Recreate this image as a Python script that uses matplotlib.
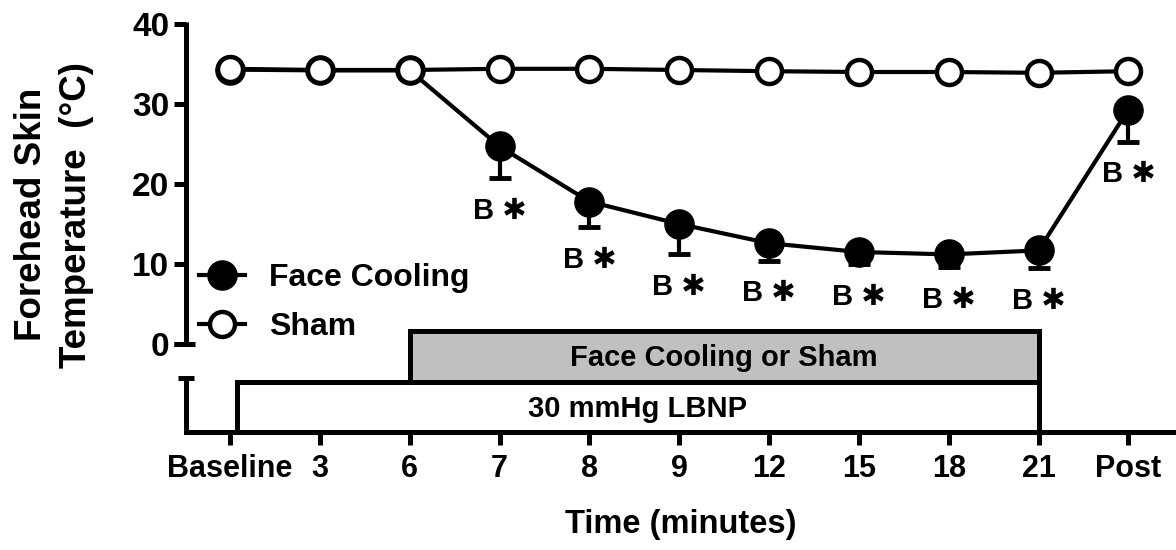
import matplotlib
matplotlib.use("Agg")
import matplotlib.pyplot as plt
from matplotlib.patches import Rectangle

# ---- data ----
labels = ['Baseline', '3', '6', '7', '8', '9', '12', '15', '18', '21', 'Post']
sham = [34.4, 34.25, 34.25, 34.4, 34.4, 34.25, 34.1, 34.0, 34.0, 33.9, 34.1]
face = [34.3, 34.2, 34.2, 24.7, 17.8, 15.0, 12.6, 11.5, 11.2, 11.7, 29.3]
face_err = [0, 0, 0, 4.0, 3.2, 3.75, 2.2, 1.5, 1.6, 2.2, 4.0]
sig = [False, False, False, True, True, True, True, True, True, True, True]
yticks = [0, 10, 20, 30, 40]

plt.rcParams['font.family'] = ['Liberation Sans', 'DejaVu Sans']
plt.rcParams['font.weight'] = 'bold'

LW = 3.6
fig = plt.figure(figsize=(11.76, 5.5), dpi=100)
ax = fig.add_axes([186 / 1176, 118 / 550, 990 / 1176, 408 / 550])

x = list(range(len(labels)))

# lines + markers
l_face, = ax.plot(x, face, '-o', color='black', lw=3, ms=21, mfc='black', mec='black',
                  mew=1, zorder=3, label='Face Cooling')
ax.errorbar(x, face, yerr=[face_err, [0] * len(face_err)], fmt='none', ecolor='black',
            elinewidth=3, capsize=8, capthick=3.5, zorder=2)
l_sham, = ax.plot(x, sham, '-o', color='black', lw=3, ms=18, mfc='white', mec='black',
                  mew=3.2, zorder=4, label='Sham')

# significance annotations
for xi, m, e, s in zip(x, face, face_err, sig):
    if s:
        ax.annotate('B \u2731', xy=(xi, m - e), xytext=(0, -23.5), textcoords='offset points',
                    ha='center', va='center', fontsize=21, fontweight='bold',
                    family=['Liberation Sans', 'DejaVu Sans'])

# protocol boxes
ax.add_patch(Rectangle((0.08, -11), 9 - 0.08, 6.25, facecolor='white', edgecolor='black',
                       lw=LW, zorder=1, clip_on=False))
ax.add_patch(Rectangle((2, -4.75), 7, 6.35, facecolor='#c0c0c0', edgecolor='black',
                       lw=LW, zorder=1, clip_on=False))
ax.text(5.5, -1.75, 'Face Cooling or Sham', ha='center', va='center', fontsize=21,
        fontweight='bold')
ax.text((0.08 + 9) / 2, -8.1, '30 mmHg LBNP', ha='center', va='center', fontsize=21,
        fontweight='bold')

# axes styling
ax.set_xlim(-0.49, 10.53)
ax.set_ylim(-11, 40)
ax.set_xticks(x)
ax.set_xticklabels(labels, fontsize=22, fontweight='bold')
ax.set_yticks(yticks)
ax.set_yticklabels([str(t) for t in yticks], fontsize=24, fontweight='bold')
for sp in ['top', 'right', 'left']:
    ax.spines[sp].set_visible(False)
ax.spines['bottom'].set_linewidth(LW)
ax.tick_params(axis='x', length=9, width=LW, pad=7)
ax.tick_params(axis='y', length=9, width=LW, pad=3)

# broken left axis
tr = ax.get_yaxis_transform()
ax.plot([0, 0], [0, 40.2], color='black', lw=LW, transform=tr, clip_on=False,
        solid_capstyle='butt', zorder=5)
ax.plot([-0.012, 0.009], [0, 0], color='black', lw=LW, transform=tr, clip_on=False,
        solid_capstyle='butt', zorder=5)
ax.plot([0, 0], [-4.25, -11], color='black', lw=LW, transform=tr, clip_on=False,
        solid_capstyle='butt', zorder=5)
ax.plot([-0.008, 0.008], [-4.25, -4.25], color='black', lw=LW, transform=tr,
        clip_on=False, solid_capstyle='butt', zorder=5)

ax.set_xlabel('Time (minutes)', fontsize=23.5, fontweight='bold', labelpad=18)
fig.text(0.046, 0.61, 'Forehead Skin\nTemperature  (\u00b0C)', rotation=90, ha='center',
         va='center', fontsize=26.5, fontweight='bold', linespacing=1.4, multialignment='center')

ax.legend(handles=[l_face, l_sham], loc='upper left', bbox_to_anchor=(199 / 1176, 1 - 263 / 550),
          bbox_transform=fig.transFigure, frameon=False, fontsize=23, handlelength=1.45,
          handletextpad=0.75, labelspacing=0.6, borderpad=0, borderaxespad=0)

fig.savefig('out.png', dpi=100)
